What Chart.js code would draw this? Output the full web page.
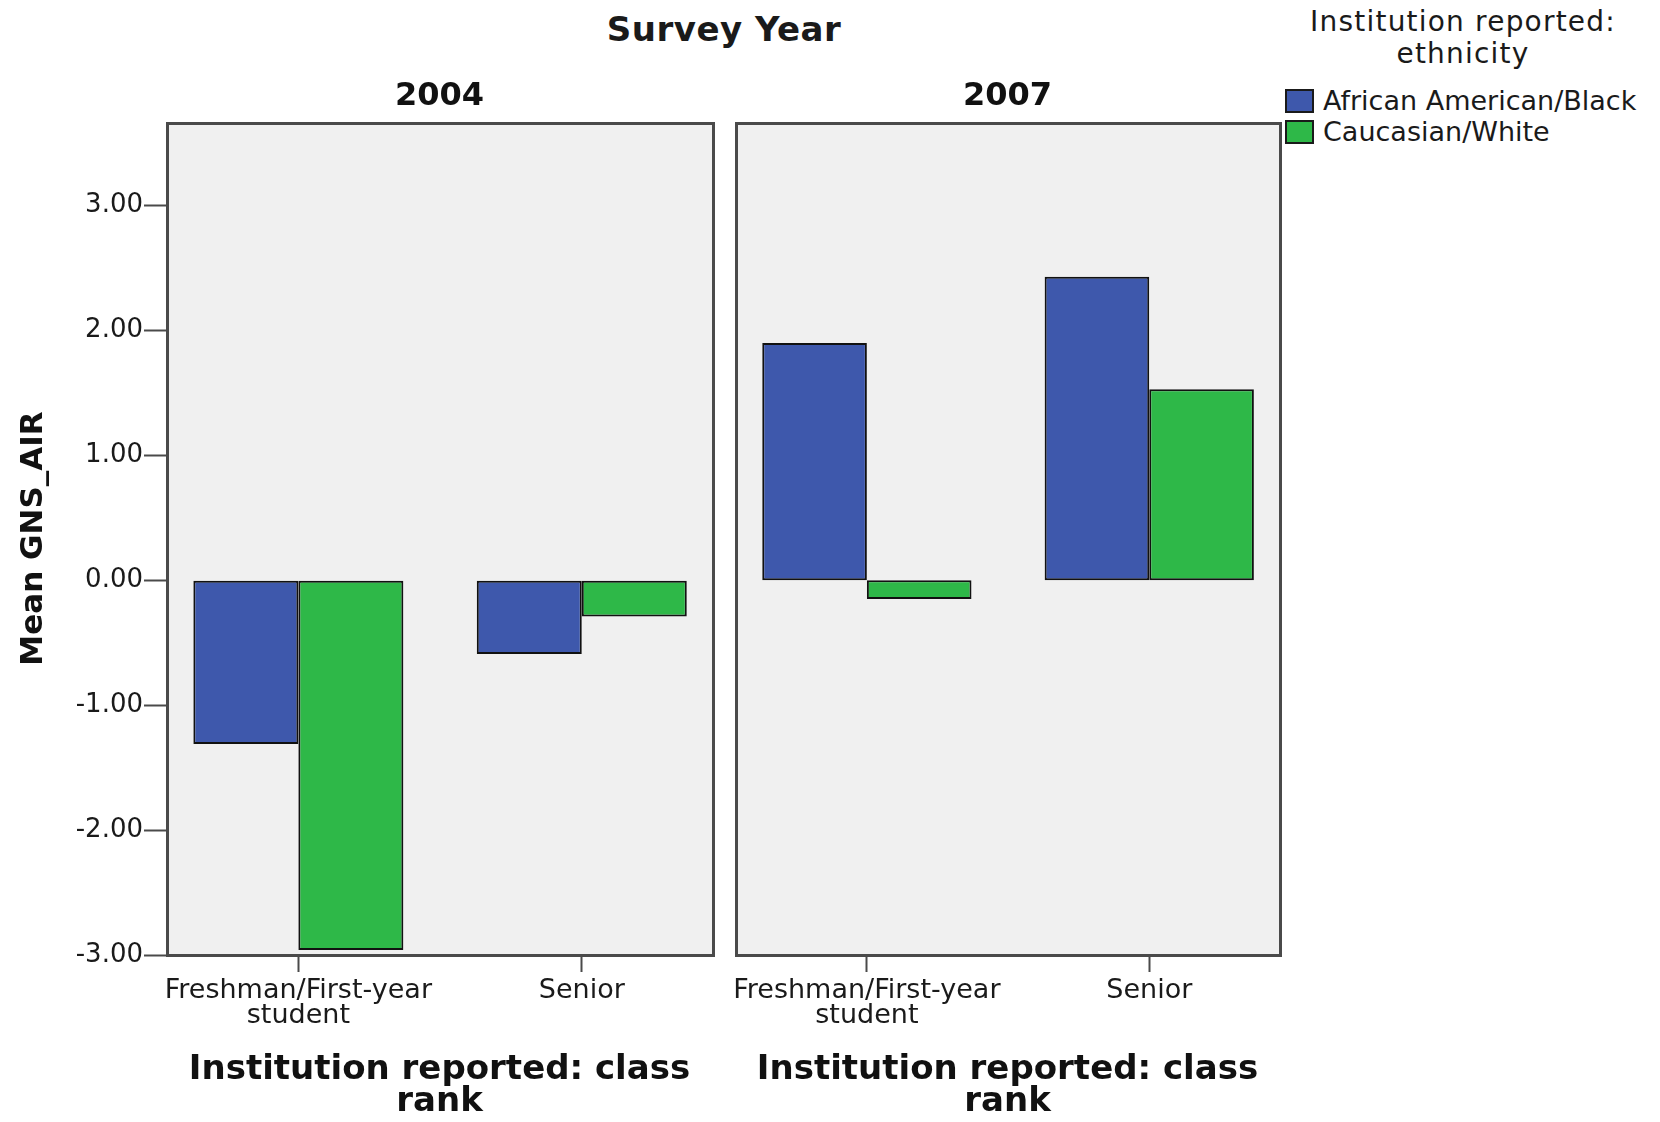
<!DOCTYPE html>
<html>
<head>
<meta charset="utf-8">
<script src="https://cdn.jsdelivr.net/npm/chart.js@4/dist/chart.umd.min.js"></script>
<style>
  html, body { margin: 0; padding: 0; background: #ffffff; }
  body { width: 1660px; height: 1122px; position: relative; overflow: hidden; font-family: "DejaVu Sans", sans-serif; color: #1a1a1a; }
  canvas { position: absolute; top: 0; }
  #c2004 { left: 0; }
  #c2007 { left: 724px; }
  #facetTitle { position: absolute; left: 524px; width: 400px; top: 8px; text-align: center; font-weight: bold; font-size: 34px; line-height: 42px; letter-spacing: 0.5px; }
  #legendTitle { position: absolute; left: 1263px; width: 400px; top: 6px; text-align: center; font-size: 28px; line-height: 32px; letter-spacing: 1.2px; }
  .legItem { position: absolute; left: 1285px; height: 30px; font-size: 27px; line-height: 30px; white-space: nowrap; }
  .legItem .sw { position: absolute; left: 0; top: 3px; width: 25px; height: 20px; border: 2px solid #1a1a1a; }
  .legItem .tx { position: absolute; left: 38px; top: 0; }
</style>
</head>
<body>
<div id="facetTitle"></div>
<div id="legendTitle"></div>
<div id="legend"></div>
<canvas id="c2004" width="724" height="1122"></canvas>
<canvas id="c2007" width="566" height="1122"></canvas>
<script>
// ---------------- data ----------------
const facetTitle = "Survey Year";
const years = ["2004", "2007"];
const categories = [["Freshman/First-year", "student"], "Senior"];
const seriesNames = ["African American/Black", "Caucasian/White"];
const africanAmerican2004 = [-1.31, -0.59];
const caucasian2004 = [-2.96, -0.29];
const africanAmerican2007 = [1.90, 2.43];
const caucasian2007 = [-0.15, 1.53];
const yTicks = [-3, -2, -1, 0, 1, 2, 3];
const yMin = -3, yMax = 3.67;
const yTitle = "Mean GNS_AIR";
const xTitle = ["Institution reported: class", "rank"];
const legendTitle = ["Institution reported:", "ethnicity"];

// ---------------- styles ----------------
const seriesColors = ["#3e58ac", "#2eb848"];
const barBorder = "#111111";
const panelBg = "#f0f0f0";
const frameColor = "#4a4a4a";

Chart.defaults.font.family = "'DejaVu Sans', sans-serif";
Chart.defaults.color = "#1a1a1a";

// header + legend (text)
document.getElementById("facetTitle").textContent = facetTitle;
document.getElementById("legendTitle").innerHTML = legendTitle.map(s => "<div>" + s + "</div>").join("");
const legendEl = document.getElementById("legend");
seriesNames.forEach((name, i) => {
  const item = document.createElement("div");
  item.className = "legItem";
  item.style.top = (86 + i * 31) + "px";
  item.innerHTML = '<div class="sw" style="background:' + seriesColors[i] + '"></div><div class="tx"></div>';
  item.querySelector(".tx").textContent = name;
  legendEl.appendChild(item);
});

const panelFrame = {
  id: "panelFrame",
  beforeDraw(chart) {
    const { ctx, chartArea: a } = chart;
    ctx.save();
    ctx.fillStyle = panelBg;
    ctx.fillRect(a.left, a.top, a.right - a.left, a.bottom - a.top);
    ctx.restore();
  },
  afterDraw(chart) {
    const { ctx, chartArea: a } = chart;
    ctx.save();
    ctx.strokeStyle = frameColor;
    ctx.lineWidth = 3;
    ctx.strokeRect(a.left + 1.5, a.top + 1.5, a.right - a.left - 1, a.bottom - a.top - 1);
    ctx.restore();
  }
};

function makePanel(id, year, aa, cw, showY) {
  return new Chart(document.getElementById(id), {
    type: "bar",
    data: {
      labels: categories,
      datasets: [
        { label: seriesNames[0], data: aa, backgroundColor: seriesColors[0] },
        { label: seriesNames[1], data: cw, backgroundColor: seriesColors[1] }
      ]
    },
    options: {
      responsive: false,
      animation: false,
      devicePixelRatio: 1,
      layout: { padding: showY ? { left: 0, right: 11, top: 0, bottom: 0 } : { left: 11, right: 10, top: 0, bottom: 0 } },
      datasets: {
        bar: {
          categoryPercentage: 0.741,
          barPercentage: 1.0,
          borderWidth: 2,
          borderColor: barBorder,
          borderSkipped: false
        }
      },
      plugins: { legend: { display: false }, tooltip: { enabled: false }, title: { display: false } },
      scales: {
        x: {
          type: "category",
          position: "bottom",
          offset: true,
          grid: { display: true, drawOnChartArea: false, offset: false, tickLength: 17, tickWidth: 2, tickColor: "#4a4a4a" },
          border: { display: false },
          ticks: { padding: 6, maxRotation: 0, autoSkip: false, color: "#1a1a1a", font: { size: 27, lineHeight: "25px" } },
          title: { display: true, text: xTitle, color: "#111", font: { size: 34, weight: "bold", lineHeight: "32px" }, padding: { top: 0, bottom: 4 } },
          afterBuildTicks(s) {
            // category centres sit slightly inside the quarter points, as in the reference
            s._startValue = -0.467;
            s._valueRange = 1.93;
          },
          afterFit(s) { s.height = 167; s.paddingLeft = 0; s.paddingRight = 0; }
        },
        x2: {
          type: "category",
          axis: "x",
          position: "top",
          offset: true,
          grid: { display: false },
          border: { display: false },
          ticks: { display: false },
          title: { display: true, text: year, color: "#111", font: { size: 32, weight: "bold", lineHeight: "38px" }, padding: { top: 78, bottom: 0 } },
          afterFit(s) { s.height = 122; s.paddingLeft = 0; s.paddingRight = 0; }
        },
        y: {
          type: "linear",
          display: showY,
          position: "left",
          min: yMin,
          max: yMax,
          afterBuildTicks(s) { s.ticks = yTicks.map(v => ({ value: v })); },
          grid: { display: true, drawOnChartArea: false, tickLength: 22, tickWidth: 2, tickColor: "#4a4a4a" },
          border: { display: false },
          ticks: { padding: 1, color: "#1a1a1a", font: { size: 26 }, callback: v => Number(v).toFixed(2) },
          title: { display: true, text: yTitle, color: "#111", font: { size: 31, weight: "bold", lineHeight: "37px" }, padding: { top: 15, bottom: 0 } },
          afterFit(s) { s.width = showY ? 166 : 0; }
        }
      }
    },
    plugins: [panelFrame]
  });
}

makePanel("c2004", years[0], africanAmerican2004, caucasian2004, true);
makePanel("c2007", years[1], africanAmerican2007, caucasian2007, false);
</script>
</body>
</html>
